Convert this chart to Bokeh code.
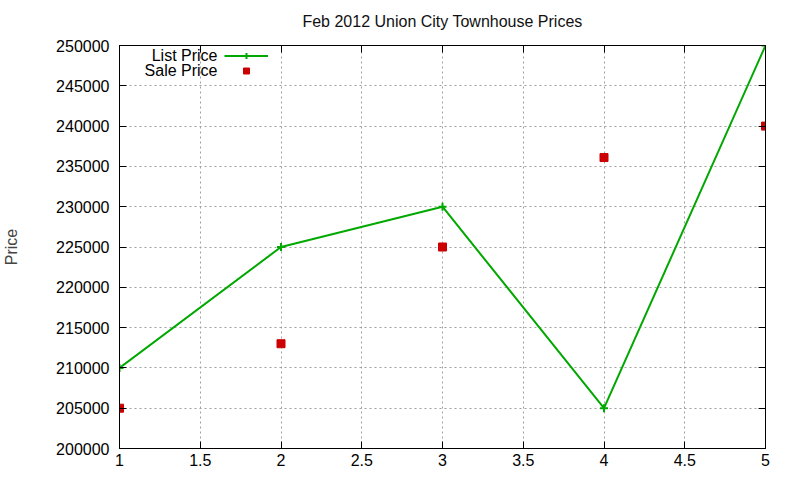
from bokeh.plotting import figure
from bokeh.models import (LinearAxis, Legend, LegendItem, Label, FixedTicker,
                          CustomJSTickFormatter, Range1d)
from bokeh.embed import file_html
from bokeh.resources import INLINE

# data
months = [1, 2, 3, 4, 5]
list_price = [210000, 225000, 230000, 205000, 250000]
sale_price = [205000, 213000, 225000, 236100, 240000]
x_ticks = [1, 1.5, 2, 2.5, 3, 3.5, 4, 4.5, 5]
y_ticks = list(range(200000, 250001, 5000))
title_text = "Feb 2012 Union City Townhouse Prices"

FONT = "Liberation Sans"
GREEN = "#00a800"
RED = "#cc0000"

p = figure(width=800, height=480, output_backend="svg", toolbar_location=None,
           x_range=Range1d(1, 5), y_range=Range1d(200000, 250000),
           min_border_left=119, min_border_right=35, min_border_top=45,
           min_border_bottom=32, outline_line_color="black",
           outline_line_width=1)
p.title = None

fmt = CustomJSTickFormatter(code="return String(tick);")
blank = CustomJSTickFormatter(code="return '';")

for ax in (p.xaxis[0], p.yaxis[0]):
    ax.major_label_text_font = FONT
    ax.major_label_text_font_size = "16px"
    ax.major_label_text_color = "black"
    ax.major_tick_in = 7
    ax.major_tick_out = 0
    ax.minor_tick_in = 0
    ax.minor_tick_out = 0
    ax.axis_line_color = "black"
    ax.formatter = fmt
p.xaxis[0].ticker = FixedTicker(ticks=x_ticks)
p.yaxis[0].ticker = FixedTicker(ticks=y_ticks)
p.xaxis[0].major_label_standoff = 5
p.yaxis[0].major_label_standoff = 10
p.yaxis[0].axis_label = "Price"
p.yaxis[0].axis_label_text_font = FONT
p.yaxis[0].axis_label_text_font_size = "16px"
p.yaxis[0].axis_label_text_font_style = "normal"
p.yaxis[0].axis_label_standoff = 33

# mirrored ticks; the top one carries the chart title
right_ax = LinearAxis(ticker=FixedTicker(ticks=y_ticks), major_tick_in=7,
                      major_tick_out=0, minor_tick_in=0, minor_tick_out=0,
                      formatter=blank, axis_line_color="black")
p.add_layout(right_ax, "right")
top_ax = LinearAxis(ticker=FixedTicker(ticks=x_ticks), major_tick_in=7,
                    major_tick_out=0, minor_tick_in=0, minor_tick_out=0,
                    formatter=blank, axis_line_color="black",
                    axis_label=title_text, axis_label_text_font=FONT,
                    axis_label_text_font_size="16px",
                    axis_label_text_font_style="normal",
                    axis_label_text_color="#111111",
                    axis_label_standoff=16)
p.add_layout(top_ax, "above")

p.xgrid.ticker = FixedTicker(ticks=x_ticks)
p.ygrid.ticker = FixedTicker(ticks=y_ticks)
for g in (p.xgrid[0], p.ygrid[0]):
    g.grid_line_color = "#a0a0a0"
    g.grid_line_dash = "2 3"
    g.grid_line_width = 1

ln = p.line(months, list_price, line_color=GREEN, line_width=2)
pl = p.scatter(months, list_price, marker="cross", size=8, line_color=GREEN,
               line_width=2)
sq = p.scatter(months, sale_price, marker="square", size=8, fill_color=RED,
               line_color=RED)

legend = Legend(items=[LegendItem(label="", renderers=[ln, pl]),
                       LegendItem(label="", renderers=[sq])],
                location=(105, 370), orientation="vertical",
                glyph_width=44, glyph_height=15, spacing=0, padding=0,
                margin=0, label_standoff=0, label_width=0,
                border_line_alpha=0, background_fill_alpha=0)
p.add_layout(legend, "center")

for txt, yy in (("List Price", 393), ("Sale Price", 378)):
    p.add_layout(Label(x=98, y=yy, x_units="screen", y_units="screen",
                       text=txt, text_align="right", text_baseline="middle",
                       text_font=FONT, text_font_size="16px",
                       text_color="black"))

open("out.html", "w").write(file_html(p, INLINE))
